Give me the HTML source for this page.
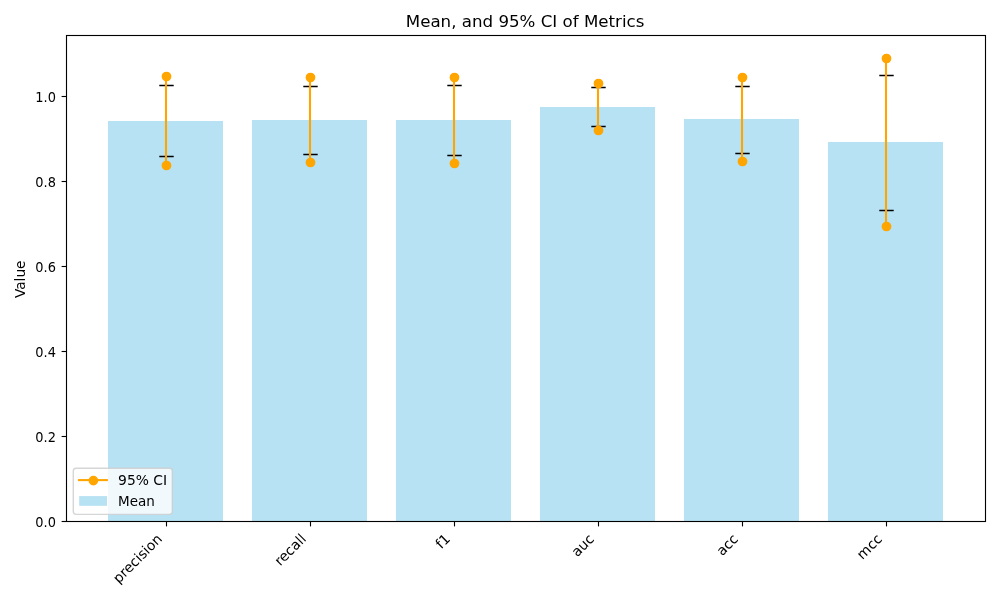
<!DOCTYPE html>
<html lang="en"><head><meta charset="utf-8"><title>Mean, and 95% CI of Metrics</title>
<style>html,body{margin:0;padding:0;background:#fff;}body{width:1000px;height:600px;overflow:hidden;}svg{display:block;}text{font-family:'DejaVu Sans','Liberation Sans',sans-serif;fill:#000;}</style></head><body>
<svg width="1000" height="600" viewBox="0 0 1000 600">
<rect width="1000" height="600" fill="#fff"/>
<g fill="#87ceeb" fill-opacity="0.6" shape-rendering="crispEdges">
<rect x="108" y="121" width="115" height="400.5"/>
<rect x="252" y="120" width="115" height="401.5"/>
<rect x="396" y="120" width="115" height="401.5"/>
<rect x="540" y="107" width="115" height="414.5"/>
<rect x="684" y="119" width="115" height="402.5"/>
<rect x="828" y="142" width="115" height="379.5"/>
</g>
<g stroke="#000" stroke-width="1.39" fill="none">
<path d="M166 85.5V156.5" stroke-width="1.2"/>
<path d="M159.3 85.5H173.7 M159.3 156.5H173.7"/>
<path d="M310 86.5V154.5" stroke-width="1.2"/>
<path d="M303.3 86.5H317.7 M303.3 154.5H317.7"/>
<path d="M454 85.5V155.5" stroke-width="1.2"/>
<path d="M447.3 85.5H461.7 M447.3 155.5H461.7"/>
<path d="M598 87.5V126.5" stroke-width="1.2"/>
<path d="M591.3 87.5H605.7 M591.3 126.5H605.7"/>
<path d="M742 86.5V153.5" stroke-width="1.2"/>
<path d="M735.3 86.5H749.7 M735.3 153.5H749.7"/>
<path d="M886 75.5V210.5" stroke-width="1.2"/>
<path d="M879.3 75.5H893.7 M879.3 210.5H893.7"/>
</g>
<g stroke="#ffa500" stroke-width="2.08" fill="#ffa500">
<path d="M166 76.5V165.5"/>
<circle cx="166.5" cy="76.5" r="4.17" stroke-width="1.39"/><circle cx="166.5" cy="165.5" r="4.17" stroke-width="1.39"/>
<path d="M310 77.5V162.5"/>
<circle cx="310.5" cy="77.5" r="4.17" stroke-width="1.39"/><circle cx="310.5" cy="162.5" r="4.17" stroke-width="1.39"/>
<path d="M454 77.5V163.5"/>
<circle cx="454.5" cy="77.5" r="4.17" stroke-width="1.39"/><circle cx="454.5" cy="163.5" r="4.17" stroke-width="1.39"/>
<path d="M598 83.5V130.5"/>
<circle cx="598.5" cy="83.5" r="4.17" stroke-width="1.39"/><circle cx="598.5" cy="130.5" r="4.17" stroke-width="1.39"/>
<path d="M742 77.5V161.5"/>
<circle cx="742.5" cy="77.5" r="4.17" stroke-width="1.39"/><circle cx="742.5" cy="161.5" r="4.17" stroke-width="1.39"/>
<path d="M886 58.5V226.5"/>
<circle cx="886.5" cy="58.5" r="4.17" stroke-width="1.39"/><circle cx="886.5" cy="226.5" r="4.17" stroke-width="1.39"/>
</g>
<g stroke="#000" stroke-width="1.11" fill="none">
<path d="M166.5 521.5V526.4"/>
<path d="M310.5 521.5V526.4"/>
<path d="M454.5 521.5V526.4"/>
<path d="M598.5 521.5V526.4"/>
<path d="M742.5 521.5V526.4"/>
<path d="M886.5 521.5V526.4"/>
<path d="M66.5 521.5H61.6"/>
<path d="M66.5 436.5H61.6"/>
<path d="M66.5 351.5H61.6"/>
<path d="M66.5 266.5H61.6"/>
<path d="M66.5 181.5H61.6"/>
<path d="M66.5 96.5H61.6"/>
<rect x="66.5" y="35.5" width="919" height="486"/>
</g>
<g font-size="13.89px">
<text x="55.9" y="526.7" text-anchor="end" textLength="20.6" lengthAdjust="spacingAndGlyphs">0.0</text>
<text x="55.9" y="441.7" text-anchor="end" textLength="20.6" lengthAdjust="spacingAndGlyphs">0.2</text>
<text x="55.9" y="356.7" text-anchor="end" textLength="20.6" lengthAdjust="spacingAndGlyphs">0.4</text>
<text x="55.9" y="271.7" text-anchor="end" textLength="20.6" lengthAdjust="spacingAndGlyphs">0.6</text>
<text x="55.9" y="186.7" text-anchor="end" textLength="20.6" lengthAdjust="spacingAndGlyphs">0.8</text>
<text x="55.9" y="101.7" text-anchor="end" textLength="20.6" lengthAdjust="spacingAndGlyphs">1.0</text>
<text transform="translate(162.95,539.8) rotate(-45)" text-anchor="end">precision</text>
<text transform="translate(306.95,539.8) rotate(-45)" text-anchor="end">recall</text>
<text transform="translate(450.95,539.8) rotate(-45)" text-anchor="end">f1</text>
<text transform="translate(594.95,539.8) rotate(-45)" text-anchor="end">auc</text>
<text transform="translate(738.95,539.8) rotate(-45)" text-anchor="end">acc</text>
<text transform="translate(882.95,539.8) rotate(-45)" text-anchor="end">mcc</text>
<text transform="translate(25.3,298) rotate(-90)" textLength="37.4" lengthAdjust="spacingAndGlyphs">Value</text>
</g>
<text x="525.1" y="27" font-size="16.67px" text-anchor="middle">Mean, and 95% CI of Metrics</text>
<rect x="73.3" y="468.3" width="99" height="46.1" rx="2.8" ry="2.8" fill="#fff" fill-opacity="0.8" stroke="#ccc" stroke-opacity="0.8" stroke-width="1.39"/>
<path d="M77.9 480.1H107.9" stroke="#ffa500" stroke-width="2.08"/><circle cx="93.4" cy="480.6" r="4.17" fill="#ffa500" stroke="#ffa500" stroke-width="1.39"/>
<rect x="79.2" y="496.1" width="27.8" height="9.7" fill="#87ceeb" fill-opacity="0.6"/>
<g font-size="13.89px"><text x="118.1" y="484.7">95% CI</text><text x="118.1" y="505.7" textLength="36.8" lengthAdjust="spacingAndGlyphs">Mean</text></g>
</svg></body></html>
